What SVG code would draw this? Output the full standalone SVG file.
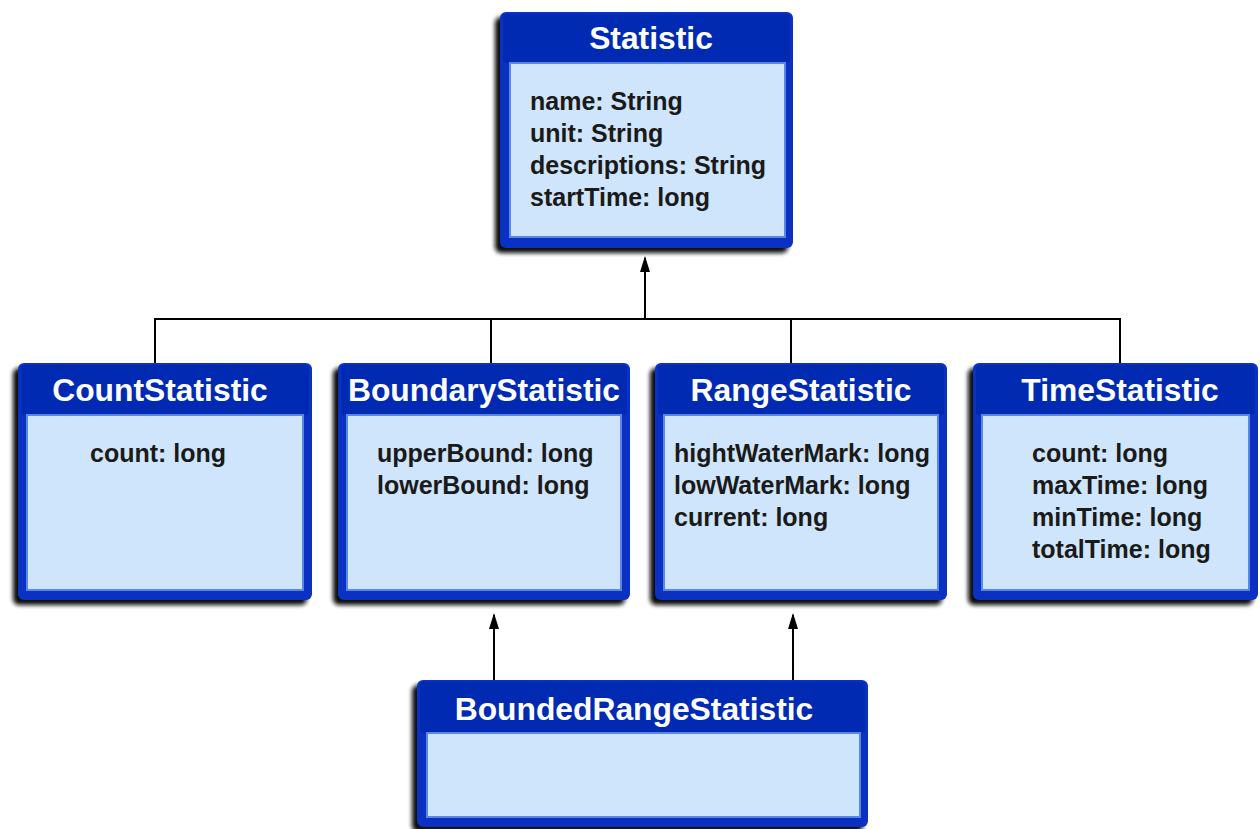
<svg xmlns="http://www.w3.org/2000/svg" width="1260" height="829" viewBox="0 0 1260 829">
<style>
.shadow{fill:#111111;filter:url(#blur)}
.outer{fill:#0a31c2}
.head{fill:#002ab2}
.body{fill:#cfe5fb;stroke:#5a86e6;stroke-width:2}
.title{font-family:"Liberation Sans",Arial,sans-serif;font-weight:bold;font-size:31.8px;fill:#ffffff;text-anchor:middle}
.attr{font-family:"Liberation Sans",Arial,sans-serif;font-weight:bold;font-size:25px;fill:#1a1a1a}
.conn{stroke:#000;stroke-width:2;fill:none}
</style>
<defs>
<filter id="blur" x="-10%" y="-10%" width="120%" height="120%"><feGaussianBlur stdDeviation="2"/></filter>
</defs>
<rect width="1260" height="829" fill="#ffffff"/>
<g id="connectors">
<path class="conn" d="M155,363 V319 H1120 V363"/>
<path class="conn" d="M491,319 V363"/>
<path class="conn" d="M791,319 V363"/>
<line class="conn" x1="645" y1="319" x2="645" y2="258"/>
<path d="M645,256 L650,272 L640,272 Z" fill="#000"/>
<line class="conn" x1="494" y1="680" x2="494" y2="615"/>
<path d="M494,613 L499,629 L489,629 Z" fill="#000"/>
<line class="conn" x1="793" y1="680" x2="793" y2="615"/>
<path d="M793,613 L798,629 L788,629 Z" fill="#000"/>
</g>
<g id="Statistic">
<rect class="shadow" x="495" y="17" width="293" height="236" rx="6"/>
<rect class="outer" x="500" y="12" width="293" height="236" rx="6"/>
<rect class="head" x="503" y="14" width="287" height="49" rx="4"/>
<rect class="body" x="510" y="63" width="275" height="174"/>
<text class="title" x="651" y="49">Statistic</text>
<text class="attr" x="530" y="110">name: String</text>
<text class="attr" x="530" y="142">unit: String</text>
<text class="attr" x="530" y="174">descriptions: String</text>
<text class="attr" x="530" y="206">startTime: long</text>
</g>
<g id="CountStatistic">
<rect class="shadow" x="13" y="368" width="294" height="237" rx="6"/>
<rect class="outer" x="18" y="363" width="294" height="237" rx="6"/>
<rect class="head" x="21" y="365" width="288" height="50" rx="4"/>
<rect class="body" x="27" y="415" width="276" height="175"/>
<text class="title" x="160" y="401">CountStatistic</text>
<text class="attr" x="90" y="462">count: long</text>
</g>
<g id="BoundaryStatistic">
<rect class="shadow" x="333" y="368" width="292" height="237" rx="6"/>
<rect class="outer" x="338" y="363" width="292" height="237" rx="6"/>
<rect class="head" x="341" y="365" width="286" height="50" rx="4"/>
<rect class="body" x="347" y="415" width="274" height="175"/>
<text class="title" x="484" y="401">BoundaryStatistic</text>
<text class="attr" x="377" y="462">upperBound: long</text>
<text class="attr" x="377" y="494">lowerBound: long</text>
</g>
<g id="RangeStatistic">
<rect class="shadow" x="650" y="368" width="292" height="237" rx="6"/>
<rect class="outer" x="655" y="363" width="292" height="237" rx="6"/>
<rect class="head" x="658" y="365" width="286" height="50" rx="4"/>
<rect class="body" x="664" y="415" width="274" height="175"/>
<text class="title" x="801" y="401">RangeStatistic</text>
<text class="attr" x="674" y="462">hightWaterMark: long</text>
<text class="attr" x="674" y="494">lowWaterMark: long</text>
<text class="attr" x="674" y="526">current: long</text>
</g>
<g id="TimeStatistic">
<rect class="shadow" x="968" y="368" width="285" height="237" rx="6"/>
<rect class="outer" x="973" y="363" width="285" height="237" rx="6"/>
<rect class="head" x="976" y="365" width="279" height="50" rx="4"/>
<rect class="body" x="982" y="415" width="267" height="175"/>
<text class="title" x="1120" y="401">TimeStatistic</text>
<text class="attr" x="1032" y="462">count: long</text>
<text class="attr" x="1032" y="494">maxTime: long</text>
<text class="attr" x="1032" y="526">minTime: long</text>
<text class="attr" x="1032" y="558">totalTime: long</text>
</g>
<g id="BoundedRangeStatistic">
<rect class="shadow" x="412" y="685" width="451" height="147" rx="6"/>
<rect class="outer" x="417" y="680" width="451" height="147" rx="6"/>
<rect class="head" x="420" y="682" width="445" height="51" rx="4"/>
<rect class="body" x="427" y="733" width="433" height="84"/>
<text class="title" x="634" y="720">BoundedRangeStatistic</text>
</g>
</svg>
